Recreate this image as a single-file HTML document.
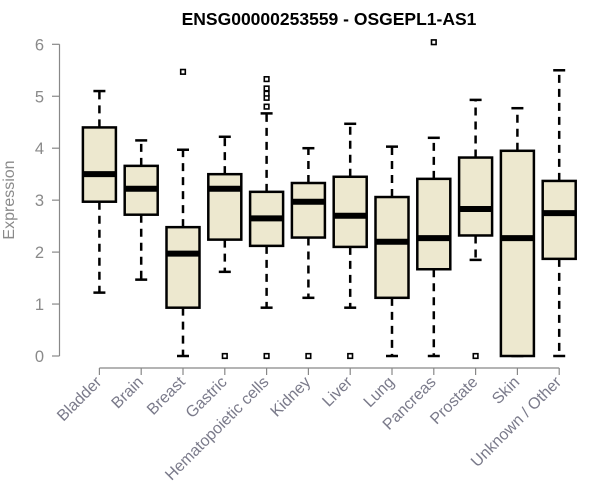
<!DOCTYPE html>
<html><head><meta charset="utf-8"><style>
body{margin:0;background:#fff;}
svg{display:block;font-family:"Liberation Sans",Arial,sans-serif;}
</style></head><body>
<svg id="chart" width="600" height="500">
<text x="329" y="25" text-anchor="middle" font-weight="bold" font-size="17.5">ENSG00000253559 - OSGEPL1-AS1</text>
<text transform="translate(14,200) rotate(-90)" text-anchor="middle" font-size="16" fill="#8a8a8a">Expression</text>
<g id="yaxis"></g>
<g id="xaxis"></g>
<g id="boxes"></g>
</svg>
<script>
const categories=["Bladder","Brain","Breast","Gastric","Hematopoietic cells","Kidney","Liver","Lung","Pancreas","Prostate","Skin","Unknown / Other"];
const lows=[1.22,1.47,0,1.62,0.93,1.12,0.93,0,0,1.85,0,0];
const q1s=[2.97,2.72,0.93,2.24,2.12,2.28,2.1,1.12,1.67,2.32,0,1.87];
const medians=[3.5,3.22,1.97,3.22,2.65,2.97,2.7,2.2,2.27,2.83,2.27,2.75];
const q3s=[4.4,3.66,2.48,3.5,3.16,3.33,3.45,3.06,3.41,3.82,3.95,3.37];
const highs=[5.1,4.15,3.97,4.22,4.67,4.0,4.47,4.03,4.2,4.93,4.77,5.5];
const outliers=[[],[],[5.47],[0],[0,4.8,4.97,5.05,5.15,5.33],[0],[0],[],[6.04],[0],[],[]];
const yTicks=[0,1,2,3,4,5,6];
const NS="http://www.w3.org/2000/svg";
function y(v){return 356-v*51.95;}
function x(i){return 99.4+i*41.8;}
function mk(tag,attrs,parent){const e=document.createElementNS(NS,tag);for(const k in attrs)e.setAttribute(k,attrs[k]);parent.appendChild(e);return e;}
const ya=document.getElementById('yaxis');
mk('line',{x1:59.5,x2:59.5,y1:y(0),y2:y(6),stroke:'#888','stroke-width':1.2},ya);
yTicks.forEach(t=>{
 const l=mk('line',{x1:52,x2:59.5,y1:y(t),y2:y(t),stroke:'#888','stroke-width':1.2},ya);
 
 
 const tx=mk('text',{x:44,y:y(t)+6,'text-anchor':'end','font-size':16.5,fill:'#8a8a8a'},ya);
 tx.textContent=t;
 
 
});
const xa=document.getElementById('xaxis');
mk('line',{x1:x(0),x2:x(categories.length-1),y1:368,y2:368,stroke:'#888','stroke-width':1.2},xa);
categories.forEach((c,i)=>{
 const l=mk('line',{x1:x(i),x2:x(i),y1:368,y2:375,stroke:'#888','stroke-width':1.2},xa);
 
 
 const tx=mk('text',{transform:`translate(${x(i)+3},383) rotate(-45)`,'text-anchor':'end','font-size':16,fill:'#7a7a8a'},xa);
 tx.textContent=c;
 
 
});
const bx=document.getElementById('boxes');
categories.forEach((c,i)=>{
 const g=mk('g',{},bx);
 
 
 const cx=x(i),hw=16.5;
 mk('line',{x1:cx,x2:cx,y1:y(q3s[i]),y2:y(highs[i]),stroke:'#000','stroke-width':2.5,'stroke-dasharray':'8,6'},g);
 mk('line',{x1:cx,x2:cx,y1:y(q1s[i]),y2:y(lows[i]),stroke:'#000','stroke-width':2.5,'stroke-dasharray':'8,6'},g);
 mk('line',{x1:cx-6,x2:cx+6,y1:y(highs[i]),y2:y(highs[i]),stroke:'#000','stroke-width':2.5},g);
 mk('line',{x1:cx-6,x2:cx+6,y1:y(lows[i]),y2:y(lows[i]),stroke:'#000','stroke-width':2.5},g);
 mk('rect',{x:cx-hw,y:y(q3s[i]),width:2*hw,height:Math.max(0,y(q1s[i])-y(q3s[i])),fill:'#ede8cf',stroke:'#000','stroke-width':2.5},g);
 mk('line',{x1:cx-hw,x2:cx+hw,y1:y(medians[i]),y2:y(medians[i]),stroke:'#000','stroke-width':6},g);
 outliers[i].forEach(o=>{
  const p=mk('rect',{x:cx-2.3,y:y(o)-2.3,width:4.6,height:4.6,fill:'#fff',stroke:'#000','stroke-width':1.6},g);
  
  
 });
});
</script>
</body></html>
